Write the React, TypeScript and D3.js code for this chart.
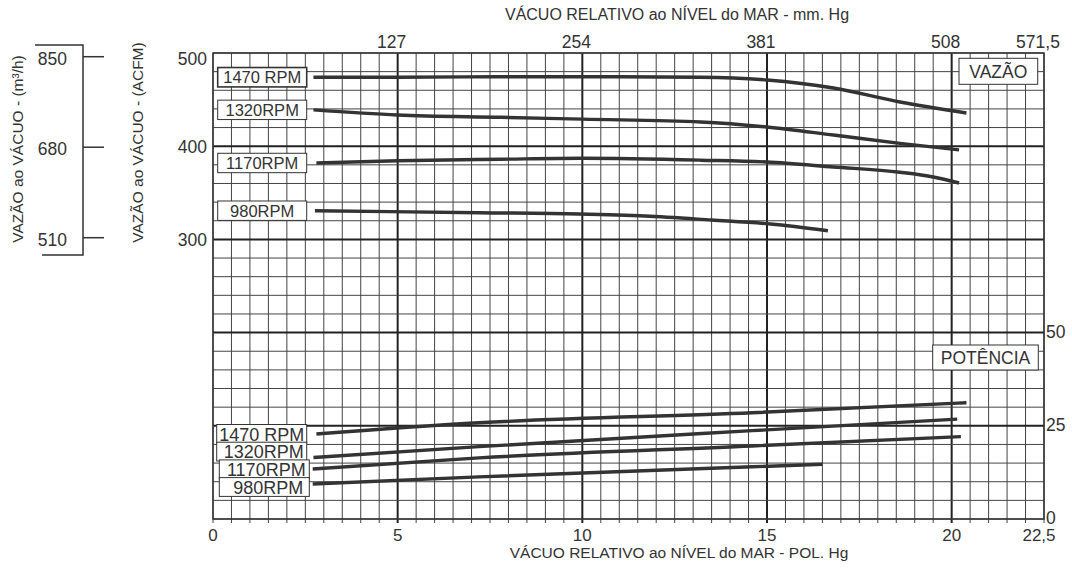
import React from 'react';
import * as d3 from 'd3';

// curve data: [vacuum inHg, value]
const rpmLabels = ['1470 RPM', '1320RPM', '1170RPM', '980RPM'];

const flow1470: [number, number][] = [[2.72, 474], [5, 474], [8, 474.5], [10, 474.5], [13.2, 474], [15, 471], [16.8, 462.4], [18.6, 447.4], [20.4, 435.6]];
const flow1320: [number, number][] = [[2.72, 439], [5, 433.5], [7.8, 431], [10, 429], [13.2, 426], [15, 420.6], [16.8, 412], [18.6, 403], [20.2, 396]];
const flow1170: [number, number][] = [[2.8, 382], [5, 384.4], [7.8, 386], [10, 387], [13.2, 385], [15, 383], [16.8, 377.7], [18.6, 372], [19.5, 367], [20.2, 360.5]];
const flow980: [number, number][] = [[2.76, 330.8], [7.2, 328.6], [9.9, 327.3], [11.7, 325.1], [13.5, 320.8], [15.1, 316.5], [16.65, 309.3]];

const pow1470: [number, number][] = [[2.8, 22.8], [7.2, 25.8], [14.6, 28.5], [20.4, 31.2]];
const pow1320: [number, number][] = [[2.72, 16.5], [7.2, 19.4], [14.6, 23.7], [20.15, 26.8]];
const pow1170: [number, number][] = [[2.7, 13.4], [7.2, 16.4], [14.6, 19.6], [20.25, 22.1]];
const pow980: [number, number][] = [[2.7, 9.4], [7.2, 11.3], [14.6, 14.0], [16.5, 14.7]];

const bottomTicks = [0, 5, 10, 15, 20, 22.5];
const bottomTickLabels = ['0', '5', '10', '15', '20', '22,5'];
const topTicks = [127, 254, 381, 508, 571.5];
const topTickLabels = ['127', '254', '381', '508', '571,5'];
const acfmTicks = [500, 400, 300];
const m3hTicks = [850, 680, 510];
const hpTicks = [50, 25, 0];

const W = 1072;
const H = 569;
const L = 213;
const R = 1044;
const T = 53;
const B = 519;
const INK = '#333';
const FONT = '"Liberation Sans", Arial, sans-serif';

const App: React.FC = () => {
  const x = d3.scaleLinear().domain([0, 22.5]).range([L, R]);
  const xMm = d3.scaleLinear().domain([0, 571.5]).range([L, R]);
  const yFlow = d3.scaleLinear().domain([0, 500]).range([B, T]);
  const yHp = d3.scaleLinear().domain([0, 125]).range([B, T]);
  // outer m3/h axis, drawn beside the chart
  const yM3h = d3.scaleLinear().domain([510, 850]).range([237.7, 56.7]);

  const flowLine = d3.line<[number, number]>()
    .x(d => x(d[0]))
    .y(d => yFlow(d[1]))
    .curve(d3.curveMonotoneX);
  const hpLine = d3.line<[number, number]>()
    .x(d => x(d[0]))
    .y(d => yHp(d[1]))
    .curve(d3.curveMonotoneX);

  const flows = [flow1470, flow1320, flow1170, flow980];
  const pows = [pow1470, pow1320, pow1170, pow980];

  const vLines = d3.range(0, 22.5 + 0.01, 0.5);
  const hLines = d3.range(0, 500 + 0.01, 20);

  const boxW = 89;
  const lowTop = yHp(pow1470[0][1]) - 9.5;

  return (
    <svg width={W} height={H} style={{ position: 'absolute', left: 0, top: 0, background: '#fff' }} fontFamily={FONT}>
      <rect width={W} height={H} fill="#fff" />

      {/* grid */}
      <g>
        {vLines.map((v, i) => {
          const major = i % 10 === 0 && i > 0 && i < vLines.length - 1;
          return (
            <line key={'v' + i} x1={x(v)} x2={x(v)} y1={T} y2={B + 4}
              stroke={major ? '#222' : '#444'} strokeWidth={major ? 2 : 1} />
          );
        })}
        {hLines.map((v, i) => {
          const major = i % 5 === 0 && i > 0 && i < hLines.length - 1;
          return (
            <line key={'h' + i} x1={L} x2={R} y1={yFlow(v)} y2={yFlow(v)}
              stroke={major ? '#222' : '#444'} strokeWidth={major ? 2 : 1} />
          );
        })}
        <rect x={L} y={T} width={R - L} height={B - T} fill="none" stroke={INK} strokeWidth={1.5} />
      </g>

      {/* curves */}
      {flows.map((f, i) => (
        <path key={'f' + i} d={flowLine(f) || ''} fill="none" stroke={INK} strokeWidth={3.4} />
      ))}
      {pows.map((p, i) => (
        <path key={'p' + i} d={hpLine(p) || ''} fill="none" stroke={INK} strokeWidth={3.4} />
      ))}

      {/* upper rpm boxes */}
      {flows.map((f, i) => {
        const cy = yFlow(f[0][1]);
        return (
          <g key={'fb' + i}>
            <rect x={217.7} y={cy - 9.7} width={boxW} height={19.4} fill="#fff" stroke={INK}
              strokeWidth={i === 0 ? 1.6 : 1} />
            <text x={217.7 + boxW / 2} y={cy + 6} textAnchor="middle" fontSize={16.5} fill={INK}>{rpmLabels[i]}</text>
          </g>
        );
      })}

      {/* lower rpm boxes */}
      {pows.map((p, i) => {
        const top = lowTop + i * 17.7;
        const bx = i < 2 ? 216.7 : 219.3;
        return (
          <g key={'pb' + i}>
            <rect x={bx} y={top} width={boxW + 1} height={18.8} fill="#fff" stroke={INK} strokeWidth={1} />
            <text x={bx + (boxW + 1) / 2 + (i === 3 ? 4 : i > 0 ? 2 : 0)} y={top + 16} textAnchor="middle"
              fontSize={18} fill={INK}>{rpmLabels[i]}</text>
          </g>
        );
      })}

      {/* section tags */}
      <rect x={959} y={58.3} width={78.7} height={26} fill="#fff" stroke={INK} strokeWidth={1} />
      <text x={998.3} y={78} textAnchor="middle" fontSize={17.5} fill={INK}>VAZÃO</text>
      <rect x={932.7} y={345} width={105.6} height={25} fill="#fff" stroke={INK} strokeWidth={1} />
      <text x={985.5} y={364} textAnchor="middle" fontSize={17.5} fill={INK}>POTÊNCIA</text>

      {/* bottom axis */}
      {bottomTicks.map((v, i) => (
        <text key={'bt' + i} x={x(v) - (v === 22.5 ? 5 : 0)} y={541} textAnchor="middle" fontSize={17} fill={INK}>{bottomTickLabels[i]}</text>
      ))}
      <text x={679} y={558} textAnchor="middle" fontSize={15.5} fill={INK}>VÁCUO RELATIVO ao NÍVEL do MAR - POL. Hg</text>

      {/* top axis */}
      {topTicks.map((v, i) => (
        <text key={'tt' + i} x={xMm(v) - 6} y={48} textAnchor="middle" fontSize={17.5} fill={INK}>{topTickLabels[i]}</text>
      ))}
      <text x={677} y={20} textAnchor="middle" fontSize={16} fill={INK}>VÁCUO RELATIVO ao NÍVEL do MAR - mm. Hg</text>

      {/* left ACFM axis */}
      {acfmTicks.map(v => (
        <text key={'a' + v} x={207} y={Math.max(yFlow(v) + 7, 65)} textAnchor="end" fontSize={17.5} fill={INK}>{v}</text>
      ))}
      <text transform="translate(143.3,142.5) rotate(-90)" textAnchor="middle" fontSize={15.5} fill={INK}>VAZÃO ao VÁCUO - (ACFM)</text>

      {/* outer m3/h axis */}
      <path d="M35,45H83V255H42" fill="none" stroke={INK} strokeWidth={1.5} />
      {m3hTicks.map(v => (
        <g key={'m' + v}>
          <line x1={83} x2={104} y1={yM3h(v)} y2={yM3h(v)} stroke={INK} strokeWidth={1.5} />
          <text x={67} y={yM3h(v) + 8} textAnchor="end" fontSize={17.5} fill={INK}>{v}</text>
        </g>
      ))}
      <text transform="translate(22.7,149) rotate(-90)" textAnchor="middle" fontSize={15.5} fill={INK}>VAZÃO ao VÁCUO - (m³/h)</text>

      {/* right HP axis */}
      {hpTicks.map(v => (
        <text key={'hp' + v} x={1046} y={yHp(v) + 5} textAnchor="start" fontSize={17.5} fill={INK}>{v}</text>
      ))}
    </svg>
  );
};

export default App;
